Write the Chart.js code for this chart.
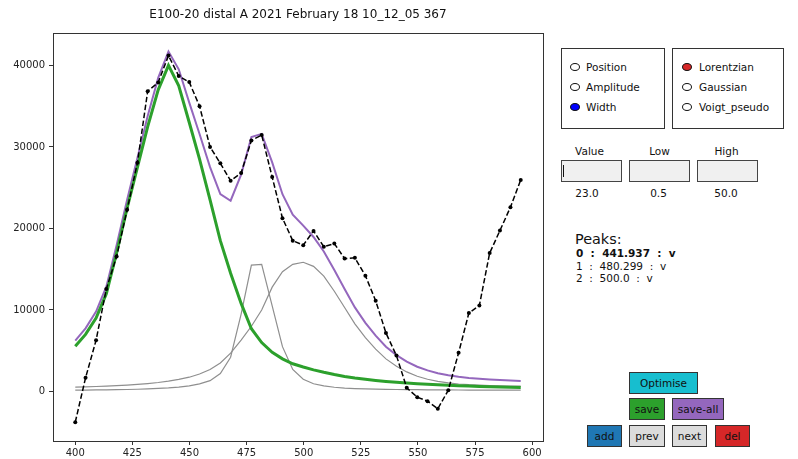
<!DOCTYPE html>
<html>
<head>
<meta charset="utf-8">
<script src="https://cdn.jsdelivr.net/npm/chart.js@4/dist/chart.umd.min.js"></script>
<style>
body { margin: 0; background: #fff; font-family: "DejaVu Sans", sans-serif; color: #111; }
#wrap { position: relative; width: 798px; height: 459px; overflow: hidden; }
#plot { position: absolute; left: 0; top: 0; }
.frame { position: absolute; border: 1px solid #333; box-sizing: border-box; }
.lbl { position: absolute; font-size: 10.5px; line-height: 12px; white-space: pre; }
.dot { position: absolute; width: 10px; height: 8px; border: 1px solid #111; border-radius: 50%; box-sizing: border-box; background: #fff; }
.tbox { position: absolute; background: #f0f0f0; border: 1px solid #444; box-sizing: border-box; }
.btn { position: absolute; border: 1px solid #333; box-sizing: border-box; font-size: 10.5px;
       display: flex; align-items: center; justify-content: center; color: #111; }
</style>
</head>
<body>
<div id="wrap">
  <canvas id="plot" width="560" height="459"></canvas>

  <!-- radio: what to edit -->
  <div class="frame" style="left:561px;top:48px;width:104px;height:81px;"></div>
  <div class="dot" style="left:570px;top:63px;"></div>
  <div class="lbl" style="left:586px;top:61px;">Position</div>
  <div class="dot" style="left:570px;top:83px;"></div>
  <div class="lbl" style="left:586px;top:81px;">Amplitude</div>
  <div class="dot" style="left:570px;top:103px;background:#0000ff;"></div>
  <div class="lbl" style="left:586px;top:101px;">Width</div>

  <!-- radio: peak shape -->
  <div class="frame" style="left:672px;top:48px;width:112px;height:81px;"></div>
  <div class="dot" style="left:682px;top:63px;background:#d62728;"></div>
  <div class="lbl" style="left:699px;top:61px;">Lorentzian</div>
  <div class="dot" style="left:682px;top:83px;"></div>
  <div class="lbl" style="left:699px;top:81px;">Gaussian</div>
  <div class="dot" style="left:682px;top:103px;"></div>
  <div class="lbl" style="left:699px;top:101px;">Voigt_pseudo</div>

  <!-- value / low / high -->
  <div class="lbl" style="left:561px;top:145px;width:57px;text-align:center;">Value</div>
  <div class="lbl" style="left:629px;top:145px;width:61px;text-align:center;">Low</div>
  <div class="lbl" style="left:697px;top:145px;width:59px;text-align:center;">High</div>
  <div class="tbox" style="left:561px;top:160px;width:61px;height:22px;"></div>
  <div style="position:absolute;left:563px;top:165px;width:1px;height:12px;background:#111;"></div>
  <div class="tbox" style="left:629px;top:160px;width:61px;height:22px;"></div>
  <div class="tbox" style="left:697px;top:160px;width:61px;height:22px;"></div>
  <div class="lbl" id="vValue" style="left:561px;top:187px;width:52px;text-align:center;"></div>
  <div class="lbl" id="vLow" style="left:629px;top:187px;width:59px;text-align:center;"></div>
  <div class="lbl" id="vHigh" style="left:697px;top:187px;width:58px;text-align:center;"></div>

  <!-- peaks list -->
  <div class="lbl" style="left:575px;top:231px;font-size:14.4px;line-height:17px;">Peaks:</div>
  <div id="peakList"></div>

  <!-- buttons -->
  <div class="btn" style="left:629px;top:372px;width:69px;height:22px;background:#17becf;">Optimise</div>
  <div class="btn" style="left:629px;top:398px;width:36px;height:22px;background:#2ca02c;">save</div>
  <div class="btn" style="left:672px;top:398px;width:52px;height:22px;background:#9467bd;">save-all</div>
  <div class="btn" style="left:587px;top:425px;width:35px;height:22px;background:#1f77b4;">add</div>
  <div class="btn" style="left:629px;top:425px;width:36px;height:22px;background:#dcdcdc;">prev</div>
  <div class="btn" style="left:672px;top:425px;width:35px;height:22px;background:#dcdcdc;">next</div>
  <div class="btn" style="left:715px;top:425px;width:35px;height:22px;background:#d62728;">del</div>
</div>

<script>
// spectrum, 44 samples 400..595
const wavelength = [400.0, 404.5, 409.1, 413.6, 418.1, 422.7, 427.2, 431.7, 436.3, 440.8,
    445.3, 449.9, 454.4, 459.0, 463.5, 468.0, 472.6, 477.1, 481.6, 486.2,
    490.7, 495.2, 499.8, 504.3, 508.8, 513.4, 517.9, 522.4, 527.0, 531.5,
    536.0, 540.6, 545.1, 549.7, 554.2, 558.7, 563.3, 567.8, 572.3, 576.9,
    581.4, 585.9, 590.5, 595.0];

const measured = [-3760, 1670, 6280, 12570, 16560, 22280, 28050, 36840, 37900, 41200,
    38700, 37950, 35000, 30000, 27990, 25850, 26800, 30800, 31450, 26300,
    21260, 18500, 17950, 19700, 17750, 18150, 16300, 16400, 14200, 11140,
    7180, 4400, 450, -700, -1190, -2120, 160, 4740, 9630, 10560,
    16980, 19740, 22610, 25950];

// selected peak (0) - lorentzian
const peak0Fit = [5550, 7000, 9000, 12000, 17000, 22500, 27500, 32500, 37000, 40000,
    37500, 33000, 28500, 23500, 18500, 14500, 10800, 7700, 6000, 4800,
    4000, 3400, 3000, 2650, 2350, 2080, 1850, 1650, 1490, 1350,
    1230, 1120, 1030, 950, 880, 820, 760, 710, 660, 620,
    580, 540, 510, 480];

const peak1Fit = [160, 170, 185, 200, 220, 245, 275, 315, 370, 440,
    540, 690, 930, 1330, 2200, 4200, 9500, 15500, 15600, 10500,
    5500, 2700, 1500, 950, 680, 520, 420, 360, 320, 290,
    265, 245, 230, 215, 205, 195, 190, 182, 177, 172,
    168, 165, 162, 160];

const peak2Fit = [530, 570, 610, 660, 720, 790, 870, 970, 1100, 1260,
    1480, 1750, 2150, 2690, 3500, 4700, 6300, 8000, 10000, 12800,
    14700, 15600, 15850, 15350, 14150, 12300, 10300, 8300, 6600, 5200,
    4000, 3100, 2400, 1870, 1500, 1230, 1050, 920, 830, 770,
    720, 690, 660, 650];

// sum of the three peaks
const fitTotal = [6240, 7740, 9795, 12860, 17940, 23535, 28645, 33785, 38470, 41700,
    39520, 35440, 31580, 27520, 24200, 23400, 26600, 31200, 31600, 28100,
    24200, 21700, 20350, 18950, 17180, 14900, 12570, 10310, 8410, 6840,
    5495, 4465, 3660, 3035, 2585, 2245, 2000, 1812, 1667, 1562,
    1468, 1395, 1332, 1290];

const xTicks = [400, 425, 450, 475, 500, 525, 550, 575, 600];
const yTicks = [0, 10000, 20000, 30000, 40000];
const titleText = "E100-20 distal A 2021 February 18 10_12_05 367";

const peakIds = ["0", "1", "2"];
const peakPositions = ["441.937", "480.299", "500.0"];
const peakFlags = ["v", "v", "v"];
const selectedPeak = 0;
const widthValue = "23.0";
const widthLow = "0.5";
const widthHigh = "50.0";

const toPoints = (ys) => wavelength.map((x, i) => ({ x: x, y: ys[i] }));

// fill in the side panel texts
document.getElementById("vValue").textContent = widthValue;
document.getElementById("vLow").textContent = widthLow;
document.getElementById("vHigh").textContent = widthHigh;
const peakTops = [246.7, 260, 272.3];
const list = document.getElementById("peakList");
peakIds.forEach((id, i) => {
    const row = document.createElement("div");
    row.className = "lbl";
    row.style.left = "576px";
    row.style.top = peakTops[i] + "px";
    if (i == selectedPeak) row.style.fontWeight = "bold";
    row.textContent = id + "  :  " + peakPositions[i] + "  :  " + peakFlags[i];
    list.appendChild(row);
});

// matplotlib-like box round the axes
const framePlugin = {
    id: "frame",
    afterDraw(chart) {
        const a = chart.chartArea;
        const ctx = chart.ctx;
        ctx.save();
        ctx.strokeStyle = "#333";
        ctx.lineWidth = 1;
        ctx.strokeRect(Math.round(a.left) + 0.5, Math.round(a.top) + 0.5,
            Math.round(a.right - a.left), Math.round(a.bottom - a.top));
        ctx.restore();
    },
};

const tickFont = { family: "DejaVu Sans", size: 10 };

new Chart(document.getElementById("plot"), {
    type: "line",
    data: {
        datasets: [
            {
                label: "data",
                data: toPoints(measured),
                borderColor: "#000",
                borderWidth: 1.5,
                borderDash: [5.5, 2.5],
                pointRadius: 2,
                pointBackgroundColor: "#000",
                pointBorderWidth: 0,
                order: 0,
            },
            {
                label: "peak 0",
                data: toPoints(peak0Fit),
                borderColor: "#2ca02c",
                borderWidth: 3,
                pointRadius: 0,
                order: 1,
            },
            {
                label: "sum",
                data: toPoints(fitTotal),
                borderColor: "#9467bd",
                borderWidth: 2,
                pointRadius: 0,
                order: 2,
            },
            {
                label: "peak 1",
                data: toPoints(peak1Fit),
                borderColor: "#8f8f8f",
                borderWidth: 1.2,
                pointRadius: 0,
                order: 3,
            },
            {
                label: "peak 2",
                data: toPoints(peak2Fit),
                borderColor: "#8f8f8f",
                borderWidth: 1.2,
                pointRadius: 0,
                order: 4,
            },
        ],
    },
    options: {
        responsive: false,
        animation: false,
        events: [],
        devicePixelRatio: 1,
        layout: { padding: { left: 0, right: 17, top: 0, bottom: 0 } },
        elements: { line: { tension: 0 } },
        plugins: {
            legend: { display: false },
            tooltip: { enabled: false },
            title: {
                display: true,
                text: titleText,
                fullSize: false,
                color: "#111",
                font: { family: "DejaVu Sans", size: 12, weight: "normal" },
                padding: { top: 8, bottom: 10.6 },
            },
        },
        scales: {
            x: {
                type: "linear",
                min: 390.25,
                max: 604.75,
                afterBuildTicks: (scale) => {
                    scale.ticks = xTicks.map((v) => ({ value: v }));
                },
                afterFit: (scale) => {
                    scale.height = 18;
                },
                ticks: { font: tickFont, color: "#222", padding: 2, maxRotation: 0, autoSkip: false },
                grid: { drawOnChartArea: false, drawTicks: true, tickLength: 4, color: "#333" },
                border: { display: false },
            },
            y: {
                type: "linear",
                min: -6075,
                max: 43975,
                afterBuildTicks: (scale) => {
                    scale.ticks = yTicks.map((v) => ({ value: v }));
                },
                afterFit: (scale) => {
                    scale.width = 53;
                },
                ticks: { font: tickFont, color: "#222", padding: 4, autoSkip: false, callback: (v) => String(v) },
                grid: { drawOnChartArea: false, drawTicks: true, tickLength: 4, color: "#333" },
                border: { display: false },
            },
        },
    },
    plugins: [framePlugin],
});
</script>
</body>
</html>
